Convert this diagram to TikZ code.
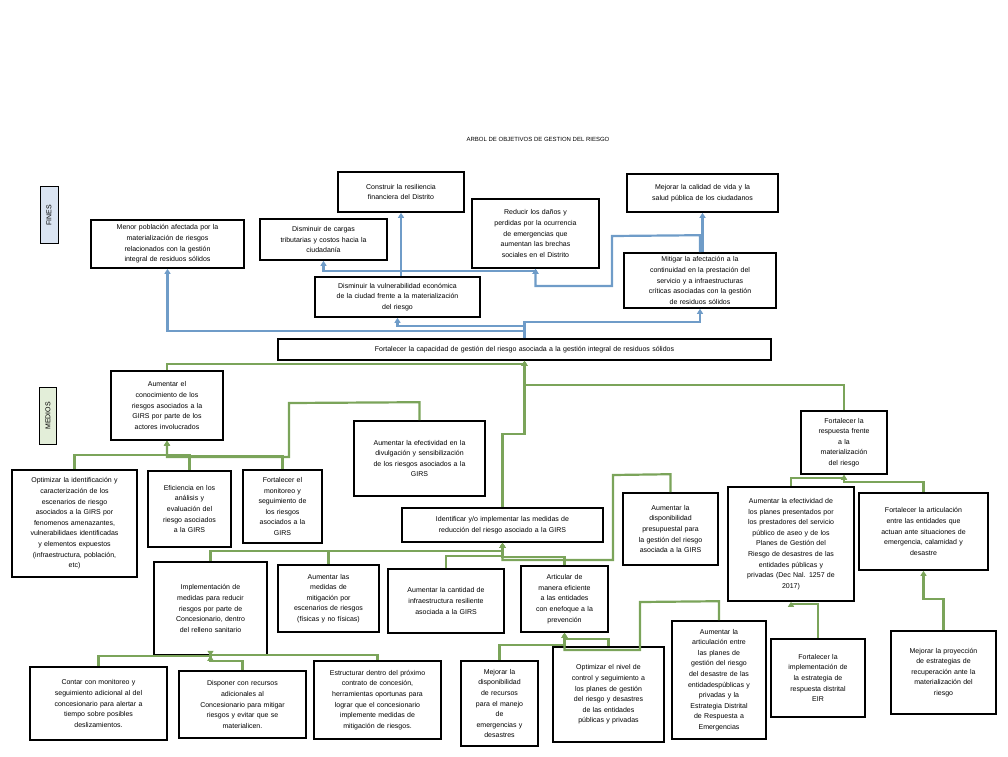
\documentclass[tikz,border=0pt]{standalone}
\usepackage{fontspec}
\setmainfont{Liberation Sans}
\usetikzlibrary{arrows.meta}
\definecolor{bl}{HTML}{6F9CC8}
\definecolor{gr}{HTML}{7BA45A}
\definecolor{fbl}{HTML}{DAE4F2}
\definecolor{fgr}{HTML}{E3EED9}
\begin{document}
\begin{tikzpicture}[x=1pt,y=-1pt,
  box/.style={draw=black,line width=1.6pt,align=center,inner sep=1pt,font=\fontsize{7}{10.6}\selectfont},
  bln/.style={draw=bl,line width=2.2pt,-{Triangle[length=5pt,width=6pt]}},
  grn/.style={draw=gr,line width=2.2pt,-{Triangle[length=5pt,width=6pt]}},
  lab/.style={draw=black,line width=0.8pt,rotate=90,font=\fontsize{7}{8}\selectfont,inner sep=2pt}]
\useasboundingbox (0,0) rectangle (1008,756);
\newcommand\bx[6]{\pgfmathsetmacro\bw{#4-#2}\pgfmathsetmacro\bh{#5-#3}\pgfmathsetmacro\tw{#4-#2-4}%
  \node[box,minimum width=\bw pt,minimum height=\bh pt,text width=\tw pt] (#1) at ({(#2+#4)/2},{(#3+#5)/2}) {#6};}
\node[font=\fontsize{6}{7}\selectfont] (title) at (538,139) {ARBOL DE OBJETIVOS DE GESTION DEL RIESGO};
\node[lab,fill=fbl,minimum width=57pt,minimum height=18pt] (fines) at (49,215) {FINES};
\node[lab,fill=fgr,minimum width=57pt,minimum height=17pt] (medios) at (48,416) {MEDIOS};
% FINES
\bx{menor}{91}{220}{244}{268}{Menor población afectada por la\\materialización de riesgos\\relacionados con la gestión\\integral de residuos sólidos}
\bx{cargas}{260}{219}{387}{260}{Disminuir de cargas\\tributarias y costos hacia la\\ciudadanía}
\bx{constr}{338}{172}{464}{212}{Construir la resiliencia\\financiera del Distrito}
\bx{vul}{315}{277}{480}{317}{Disminuir la vulnerabilidad económica\\de la ciudad frente a la materialización\\del riesgo}
\bx{red}{472}{199}{599}{268}{Reducir los daños y\\perdidas por la ocurrencia\\de emergencias que\\aumentan las brechas\\sociales en el Distrito}
\bx{mej}{627}{174}{778}{212}{Mejorar la calidad de vida y la\\salud pública de los ciudadanos}
\bx{mit}{624}{253}{776}{308}{Mitigar la afectación a la\\continuidad en la prestación del\\servicio y a infraestructuras\\críticas asociadas con la gestión\\de residuos sólidos}
\bx{fort}{278}{339}{771}{360}{Fortalecer la capacidad de gestión del riesgo asociada a la gestión integral de residuos sólidos}
% MEDIOS
\bx{con}{111}{371}{223}{440}{Aumentar el\\conocimiento de los\\riesgos asociados a la\\GIRS por parte de los\\actores involucrados}
\bx{div}{354}{421}{485}{496}{Aumentar la efectividad en la\\divulgación y sensibilización\\de los riesgos asociados a la\\GIRS}
\bx{optid}{12}{470}{137}{577}{Optimizar la identificación y\\caracterización de los\\escenarios de riesgo\\asociados a la GIRS por\\fenomenos amenazantes,\\vulnerabilidaes identificadas\\y elementos expuestos\\(infraestructura, población,\\etc)}
\bx{efic}{148}{471}{231}{547}{Eficiencia en los\\análisis y\\evaluación del\\riesgo asociados\\a la GIRS}
\bx{monit}{243}{470}{322}{543}{Fortalecer el\\monitoreo y\\seguimiento de\\los riesgos\\asociados a la\\GIRS}
\bx{ident}{402}{508}{603}{542}{Identificar y/o implementar las medidas de\\reducción del riesgo asociado a la GIRS}
\bx{presup}{623}{493}{718}{565}{Aumentar la\\disponibilidad\\presupuestal para\\la gestión del riesgo\\asociada a la GIRS}
\bx{resp}{801}{411}{887}{474}{Fortalecer la\\respuesta frente\\a la\\materialización\\del riesgo}
\bx{planes}{728}{487}{854}{601}{Aumentar la efectividad de\\los planes presentados por\\los prestadores del servicio\\público de aseo y de los\\Planes de Gestión del\\Riesgo de desastres de las\\entidades públicas y\\privadas (Dec Nal. 1257 de\\2017)}
\bx{fart}{859}{493}{988}{570}{Fortalecer la articulación\\entre las entidades que\\actuan ante situaciones de\\emergencia, calamidad y\\desastre}
\bx{impl}{154}{562}{267}{655}{Implementación de\\medidas para reducir\\riesgos por parte de\\Concesionario, dentro\\del relleno sanitario}
\bx{medid}{278}{565}{379}{632}{Aumentar las\\medidas de\\mitigación por\\escenarios de riesgos\\(físicas y no físicas)}
\bx{cant}{388}{569}{504}{633}{Aumentar la cantidad de\\infraestructura resiliente\\asociada a la GIRS}
\bx{artic}{521}{566}{608}{632}{Articular de\\manera eficiente\\a las entidades\\con enefoque a la\\prevención}
\bx{contar}{30}{667}{167}{740}{Contar con monitoreo y\\seguimiento adicional al del\\concesionario para alertar a\\tiempo sobre posibles\\deslizamientos.}
\bx{disp}{179}{671}{306}{738}{Disponer con recursos\\adicionales al\\Concesionario para mitigar\\riesgos y evitar que se\\materialicen.}
\bx{estr}{314}{661}{441}{739}{Estructurar dentro del próximo\\contrato de concesión,\\herramientas oportunas para\\lograr que el concesionario\\implemente medidas de\\mitigación de riesgos.}
\bx{mdisp}{461}{661}{538}{746}{Mejorar la\\disponibilidad\\de recursos\\para el manejo\\de\\emergencias y\\desastres}
\bx{optn}{553}{647}{664}{742}{Optimizar el nivel de\\control y seguimiento a\\los planes de gestión\\del riesgo y desastres\\de las entidades\\públicas y privadas}
\bx{aart}{672}{621}{766}{739}{Aumentar la\\articulación entre\\las planes de\\gestión del riesgo\\del desastre de las\\entidadespúblicas y\\privadas y la\\Estrategia Distrital\\de Respuesta a\\Emergencias}
\bx{fimpl}{771}{639}{865}{717}{Fortalecer la\\implementación de\\la estrategia de\\respuesta distrital\\EIR}
\bx{mproy}{891}{631}{996}{714}{Mejorar la proyección\\de estrategias de\\recuperación ante la\\materialización del\\riesgo}
% blue connectors
\draw[bln] (fort.north) -- ++(0,-7) -| (menor.south);
\draw[bln] (fort.north) -- ++(0,-12) -| (vul.south);
\draw[bln] (fort.north) -- ++(0,-16) -| (mit.south);
\draw[bln] (constr.south |- vul.north) -- (constr.south);
\draw[bln] (constr.south |- vul.north) -- ++(0,-5) -| (cargas.south);
\draw[bln] (constr.south |- vul.north) -- ++(0,-5) -| (red.south);
\draw[bln] (mej.south |- mit.north) -- (mej.south);
\draw[bln] (mit.north) -- ++(0,-17) -- (612,236) -- (612,286) -| (red.south);
% green connectors
\draw[grn] (con.north) -- ++(0,-6) -| (fort.south);
\draw[grn] (ident.north) -- ++(0,-73) -| (fort.south);
\draw[grn] (resp.north) -- ++(0,-25) -| (fort.south);
\draw[grn] (optid.north) -- ++(0,-14) -| (con.south);
\draw[grn] (efic.north) -- ++(0,-15) -| (con.south);
\draw[grn] (monit.north) -- ++(0,-13) -| (con.south);
\draw[grn] (div.north) -- ++(0,-18) -- (289,403) -- (289,457) -| (con.south);
\draw[grn] (impl.north) -- ++(0,-10) -| (ident.south);
\draw[grn] (medid.north) -- ++(0,-13) -| (ident.south);
\draw[grn] (cant.north) -- ++(0,-12) -| (ident.south);
\draw[grn] (artic.north) -- ++(0,-8) -| (ident.south);
\draw[grn] (presup.north) -- ++(0,-18) -- (613,475) -- (613,560) -| (ident.south);
\draw[grn] (contar.north) -- ++(0,-10) -| (impl.south);
\draw[grn] (disp.north) -- ++(0,-9) -| (impl.south);
\draw[grn] (estr.north) -- ++(0,-5) -| (impl.south);
\draw[grn] (mdisp.north) -- ++(0,-15) -| (artic.south);
\draw[grn] (optn.north) -- ++(0,-7) -| (artic.south);
\draw[grn] (aart.north) -- ++(0,-19) -- (640,602) -- (640,650) -| (artic.south);
\draw[grn] (fimpl.north) -- ++(0,-34) -| (planes.south);
\draw[grn] (mproy.north) -- ++(0,-31) -| (fart.south);
\draw[grn] (planes.north) -- ++(0,-8) -| (resp.south);
\draw[grn] (fart.north) -- ++(0,-10) -| (resp.south);
\end{tikzpicture}
\end{document}
